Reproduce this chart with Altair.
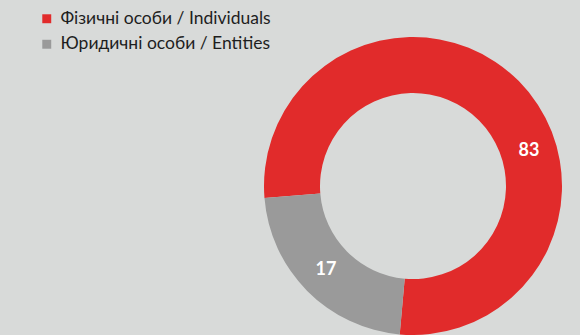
import math
import altair as alt
import pandas as pd

# Data
categories = ["Фізичні особи / Individuals", "Юридичні особи / Entities"]
labels = ["83", "17"]
# arc shares as drawn in the reference (measured angular spans)
shares = [77.7, 22.3]
# angular position (degrees, clockwise from top) of the printed value labels
label_angles = [73.4, 226.0]
order = [0, 1]

colors = ["#e12b2b", "#9a9a9a"]

df = pd.DataFrame({
    "category": categories,
    "label": labels,
    "share": shares,
    "label_angle": label_angles,
    "order": order,
})

start = math.radians(265.4)
cx, cy = 413, 186

color_enc = alt.Color(
    "category:N",
    scale=alt.Scale(domain=categories, range=colors),
    sort=categories,
    legend=alt.Legend(
        title=None,
        orient="none",
        legendX=38,
        legendY=10,
        padding=0,
        symbolType="square",
        symbolSize=80,
        symbolStrokeWidth=0,
        symbolOffset=0,
        labelFont="Lato",
        labelFontSize=17.5,
        labelColor="#1e1e1e",
        labelOffset=5,
        rowPadding=6.5,
        labelLimit=400,
    ),
)

arcs = alt.Chart(df).mark_arc(innerRadius=93, outerRadius=149).encode(
    theta=alt.Theta("share:Q", stack=True,
                    scale=alt.Scale(range=[start, start + 2 * math.pi])),
    color=color_enc,
    order=alt.Order("order:Q"),
    x=alt.value(cx),
    y=alt.value(cy),
)

texts = alt.Chart(df).mark_text(
    radius=121, font="Lato", fontSize=18, fontWeight="bold",
    color="white", align="center", baseline="middle",
).encode(
    theta=alt.Theta("label_angle:Q", stack=False,
                    scale=alt.Scale(domain=[0, 360], range=[0, 2 * math.pi])),
    text="label:N",
    x=alt.value(cx),
    y=alt.value(cy),
)

chart = alt.layer(arcs, texts).resolve_scale(theta="independent").properties(
    width=580, height=335, padding=0,
    autosize=alt.AutoSizeParams(type="none"),
    background="#d8dad9",
).configure_view(stroke=None)

chart.save("out.html", embed_options={"renderer": "svg", "actions": False})
